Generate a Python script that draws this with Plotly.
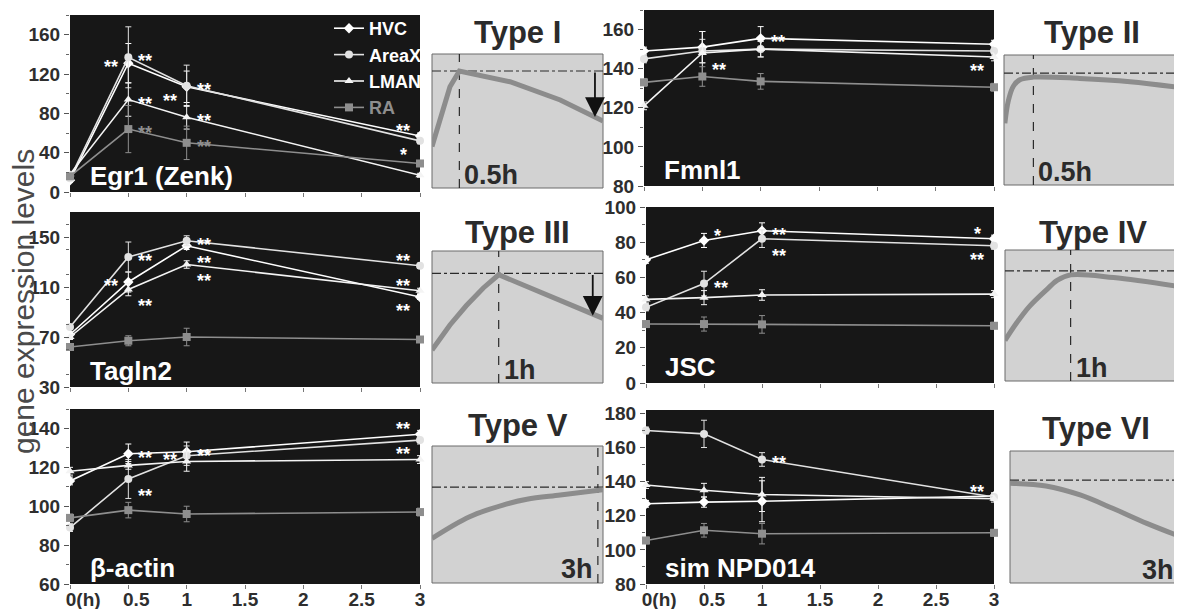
import plotly.graph_objects as go

W, H = 1182, 609
OFF = 8  # page body margin in the browser

# ---------------- data ----------------
times = [0, 0.5, 1, 3]
x_tickvals = [0, 0.5, 1, 1.5, 2, 2.5, 3]
NB = "\u00a0"
x_ticktext = [NB * 5 + "0(h)", NB * 3 + "0.5", "1", "1.5", "2", "2.5", "3"]
series_names = ["HVC", "AreaX", "LMAN", "RA"]

genes = ["Egr1 (Zenk)", "Tagln2", "β-actin", "Fmnl1", "JSC", "sim NPD014"]

egr1_hvc = [12, 131, 107, 57]
egr1_areax = [14, 137, 108, 52]
egr1_lman = [18, 94, 76, 17]
egr1_ra = [16, 64, 50, 29]
egr1_err = [[2, 20, 16, 3], [2, 31, 21, 3], [2, 17, 12, 2], [2, 24, 17, 3]]

tagln2_hvc = [72, 114, 143, 102]
tagln2_areax = [78, 134, 147, 127]
tagln2_lman = [70, 108, 128, 107]
tagln2_ra = [62, 67, 70, 68]
tagln2_err = [[2, 8, 3, 2], [2, 12, 4, 2], [2, 5, 3, 2], [2, 4, 7, 2]]

bactin_hvc = [113, 127, 128, 137]
bactin_areax = [89, 114, 126, 134]
bactin_lman = [118, 121, 123, 124]
bactin_ra = [94, 98, 96, 97]
bactin_err = [[2, 5, 5, 2], [2, 10, 5, 2], [2, 2, 5, 2], [2, 4, 4, 2]]

fmnl1_hvc = [149, 151, 155.5, 152.5]
fmnl1_areax = [145, 149, 150, 149]
fmnl1_lman = [121, 148, 150, 146]
fmnl1_ra = [133, 136, 133.5, 130.5]
fmnl1_err = [[2, 8, 6, 2], [2, 6, 4, 2], [2, 11, 4, 2], [2, 5, 4, 2]]

jsc_hvc = [70, 81, 86.5, 82]
jsc_areax = [43, 56.5, 82, 78]
jsc_lman = [47.5, 48.5, 50, 50.5]
jsc_ra = [33.5, 33.5, 33.3, 32.5]
jsc_err = [[2, 4, 4.5, 2], [2, 7, 5, 2], [2, 4, 3, 2], [2, 4, 5, 2]]

npd014_hvc = [127, 128, 128.5, 131.5]
npd014_areax = [170, 168, 153, 131]
npd014_lman = [138, 135, 132.5, 130]
npd014_ra = [105.5, 111.5, 109.5, 110]
npd014_err = [[2, 3, 12, 2], [2, 8, 4, 2], [2, 4, 10, 2], [2, 4, 6, 2]]

gene_values = [
    [egr1_hvc, egr1_areax, egr1_lman, egr1_ra],
    [tagln2_hvc, tagln2_areax, tagln2_lman, tagln2_ra],
    [bactin_hvc, bactin_areax, bactin_lman, bactin_ra],
    [fmnl1_hvc, fmnl1_areax, fmnl1_lman, fmnl1_ra],
    [jsc_hvc, jsc_areax, jsc_lman, jsc_ra],
    [npd014_hvc, npd014_areax, npd014_lman, npd014_ra],
]
gene_errors = [egr1_err, tagln2_err, bactin_err, fmnl1_err, jsc_err, npd014_err]

y_ranges = [[0, 180], [30, 170], [60, 150], [80, 170], [0, 100], [80, 182]]
y_tick0 = [0, 30, 60, 80, 0, 80]
y_dtick = [40, 40, 20, 20, 20, 20]

# significance marks: (series index, time index, label)
egr1_stars = [(0, 1, "**"), (1, 1, "**"), (2, 1, "**"), (3, 1, "**"),
              (0, 2, "**"), (1, 2, "**"), (2, 2, "**"), (3, 2, "**"),
              (0, 3, "**"), (1, 3, "*")]
tagln2_stars = [(1, 1, "**"), (0, 1, "**"), (2, 1, "**"),
                (1, 2, "**"), (0, 2, "**"), (2, 2, "**"),
                (1, 3, "**"), (2, 3, "**"), (0, 3, "**")]
bactin_stars = [(0, 1, "**"), (1, 1, "**"), (1, 2, "**"), (0, 2, "**"),
                (0, 3, "**"), (1, 3, "**")]
fmnl1_stars = [(2, 1, "**"), (0, 2, "**"), (2, 3, "**")]
jsc_stars = [(0, 1, "*"), (1, 1, "**"), (0, 2, "**"), (1, 2, "**"),
             (0, 3, "*"), (1, 3, "**")]
npd014_stars = [(1, 2, "**"), (1, 3, "**")]
gene_stars = [egr1_stars, tagln2_stars, bactin_stars, fmnl1_stars, jsc_stars, npd014_stars]
# placement of each mark relative to its point
egr1_star_side = ["l", "r", "r", "r", "ld", "r", "r", "r", "lu", "ld"]
tagln2_star_side = ["r", "l", "rd", "r", "rd", "rd", "lu", "lu", "ld"]
bactin_star_side = ["r", "rd", "l", "r", "lu", "ld"]
fmnl1_star_side = ["rd", "r", "ld"]
jsc_star_side = ["ru", "r", "r", "rd", "lu", "ld"]
npd014_star_side = ["r", "lu"]
gene_star_side = [egr1_star_side, tagln2_star_side, bactin_star_side,
                  fmnl1_star_side, jsc_star_side, npd014_star_side]

# schematic response types (normalised time 0..1, normalised level 0..1)
type_names = ["Type I", "Type II", "Type III", "Type IV", "Type V", "Type VI"]
type_peak_labels = ["0.5h", "0.5h", "1h", "1h", "3h", "3h"]
type1_x = [0.0, 0.057, 0.105, 0.16, 0.456, 0.75, 1.0]
type1_y = [0.31, 0.557, 0.755, 0.873, 0.793, 0.657, 0.5]
type2_x = [0.005, 0.025, 0.053, 0.09, 0.167, 0.43, 0.716, 1.0]
type2_y = [0.475, 0.65, 0.76, 0.81, 0.83, 0.82, 0.795, 0.75]
type3_x = [0.0, 0.105, 0.2, 0.3, 0.39, 0.69, 1.0]
type3_y = [0.25, 0.44, 0.585, 0.72, 0.82, 0.66, 0.49]
type4_x = [0.0, 0.07, 0.14, 0.24, 0.3, 0.375, 0.62, 1.0]
type4_y = [0.31, 0.45, 0.57, 0.70, 0.77, 0.81, 0.79, 0.72]
type5_x = [0.0, 0.22, 0.415, 0.555, 0.75, 1.0]
type5_y = [0.326, 0.484, 0.569, 0.611, 0.642, 0.68]
type6_x = [0.0, 0.21, 0.41, 0.6, 0.8, 1.0]
type6_y = [0.755, 0.735, 0.667, 0.566, 0.452, 0.35]
type_curves_x = [type1_x, type2_x, type3_x, type4_x, type5_x, type6_x]
type_curves_y = [type1_y, type2_y, type3_y, type4_y, type5_y, type6_y]
type_peak_x = [0.16, 0.167, 0.39, 0.375, 0.97, 0.99]
type_ref_y = [0.873, 0.86, 0.83, 0.84, 0.70, 0.78]
type_arrow_x = [0.953, None, 0.94, None, None, None]
type_arrow_end = [0.53, None, 0.51, None, None, None]

# ---------------- layout geometry (pixels in the 1182x609 window) ----------------
FW, FH = W - OFF, H - OFF


def px_x(a):
    return (a - OFF) / FW


def px_y(a):
    return 1 - (a - OFF) / FH


def xd(a, b):
    return [px_x(a), px_x(b)]


def yd(top, bottom):
    return [px_y(bottom), px_y(top)]


def ax_names(n):
    if n == 1:
        return "x", "y", "xaxis", "yaxis"
    return f"x{n}", f"y{n}", f"xaxis{n}", f"yaxis{n}"


data_boxes = [(70, 420, 15, 192), (70, 420, 212, 387), (70, 420, 409, 584),
              (644, 994, 10, 186), (646, 994, 207, 383), (646, 994, 410, 584)]
type_boxes = [(432, 603, 54, 188), (1004, 1180, 55, 185), (432, 603, 251, 383),
              (1005, 1180, 250, 381), (432, 603, 446, 583), (1010, 1181, 451, 583)]
type_title_y = [33, 33, 232, 232, 425, 428]

FONT = "Liberation Sans, Arial, sans-serif"
series_style = [
    dict(symbol="diamond", color="#ffffff", size=8),
    dict(symbol="circle", color="#e2e2e2", size=8),
    dict(symbol="triangle-up", color="#f4f4f4", size=8),
    dict(symbol="square", color="#8e8e8e", size=8),
]
legend_names = ["HVC", "AreaX", "LMAN", '<span style="color:#8e8e8e">RA</span>']

fig = go.Figure()
layout = {}
shapes = []
annotations = []

shift = {"r": (17, 0), "l": (-17, 0), "rd": (17, -13), "ld": (-17, -10),
         "lu": (-17, 9), "ru": (13, 8)}

for i in range(6):
    xa, ya, xk, yk = ax_names(i + 1)
    x0, x1, t, b = data_boxes[i]
    bottom_row = i in (2, 5)
    layout[xk] = dict(
        domain=xd(x0, x1), anchor=ya, range=[0, 3], showgrid=False, zeroline=False,
        tickvals=x_tickvals, ticktext=x_ticktext if bottom_row else [""] * 7,
        ticks="outside", ticklen=4, tickcolor="#777", showline=False, automargin=False,
        ticklabelstandoff=-6,
        tickfont=dict(family=FONT, size=19, color="#2e2e2e", weight="bold"),
    )
    layout[yk] = dict(
        domain=yd(t, b), anchor=xa, range=y_ranges[i], showgrid=False, zeroline=False,
        tick0=y_tick0[i], dtick=y_dtick[i], ticks="outside", ticklen=5, tickcolor="#555",
        minor=dict(dtick=y_dtick[i] / 2, ticks="outside", ticklen=3, tickcolor="#666", showgrid=False),
        tickfont=dict(family=FONT, size=19, color="#2e2e2e", weight="bold"),
        showline=False, automargin=False,
    )
    shapes.append(dict(type="rect", xref=f"{xa} domain", yref=f"{ya} domain",
                       x0=0, x1=1, y0=0, y1=1, fillcolor="#171717",
                       line=dict(width=0), layer="below"))
    for s in range(4):
        st = series_style[s]
        fig.add_trace(go.Scatter(
            x=times, y=gene_values[i][s], xaxis=xa, yaxis=ya,
            mode="lines+markers", name=legend_names[s], legendgroup=series_names[s],
            showlegend=(i == 0), cliponaxis=False,
            line=dict(color=st["color"], width=1.6),
            marker=dict(symbol=st["symbol"], color=st["color"], size=st["size"]),
            error_y=dict(type="data", array=gene_errors[i][s], color=st["color"],
                         thickness=1, width=3),
        ))
    annotations.append(dict(text=f"<b>{genes[i]}</b>", xref=f"{xa} domain", yref=f"{ya} domain",
                            x=0.05, y=0.09, xanchor="left", yanchor="middle", showarrow=False,
                            font=dict(family=FONT, size=26, color="#ffffff")))
    for (s, ti, lab), side in zip(gene_stars[i], gene_star_side[i]):
        dx, dy = shift[side]
        col = "#8e8e8e" if s == 3 else "#ffffff"
        annotations.append(dict(text=lab, x=times[ti], y=gene_values[i][s][ti], xref=xa, yref=ya,
                                xshift=dx, yshift=dy - 4, showarrow=False,
                                xanchor="center", yanchor="middle",
                                font=dict(family=FONT, size=18, color=col, weight="bold")))

for k in range(6):
    xa, ya, xk, yk = ax_names(k + 7)
    x0, x1, t, b = type_boxes[k]
    layout[xk] = dict(domain=xd(x0, x1), anchor=ya, range=[0, 1], visible=False, automargin=False)
    layout[yk] = dict(domain=yd(t, b), anchor=xa, range=[0, 1], visible=False, automargin=False)
    shapes.append(dict(type="rect", xref=f"{xa} domain", yref=f"{ya} domain",
                       x0=0, x1=1, y0=0, y1=1, fillcolor="#d2d2d2",
                       line=dict(color="#6a6a6a", width=1), layer="below"))
    shapes.append(dict(type="line", xref=xa, yref=ya, x0=0, x1=1,
                       y0=type_ref_y[k], y1=type_ref_y[k],
                       line=dict(color="#2a2a2a", width=1.2, dash="dashdot"), layer="below"))
    shapes.append(dict(type="line", xref=xa, yref=ya, x0=type_peak_x[k], x1=type_peak_x[k],
                       y0=0, y1=1, line=dict(color="#2a2a2a", width=1.2, dash="dash"), layer="below"))
    fig.add_trace(go.Scatter(
        x=type_curves_x[k], y=type_curves_y[k], xaxis=xa, yaxis=ya, mode="lines",
        showlegend=False, hoverinfo="skip", cliponaxis=False,
        line=dict(color="#8c8c8c", width=5,
                  shape="linear" if k in (0, 2) else "spline"),
    ))
    annotations.append(dict(text=f"<b>{type_names[k]}</b>", xref=f"{xa} domain", yref="paper",
                            x=0.5, y=px_y(type_title_y[k]), xanchor="center", yanchor="middle",
                            showarrow=False, font=dict(family=FONT, size=31, color="#2b2b2b")))
    right = type_peak_x[k] > 0.8
    annotations.append(dict(text=f"<b>{type_peak_labels[k]}</b>", xref=xa, yref=ya,
                            x=type_peak_x[k], y=0.1, xanchor="right" if right else "left",
                            xshift=-3 if right else 3, yanchor="middle", showarrow=False,
                            font=dict(family=FONT, size=27, color="#2b2b2b")))
    if type_arrow_x[k] is not None:
        annotations.append(dict(x=type_arrow_x[k], y=type_arrow_end[k], ax=type_arrow_x[k],
                                ay=type_ref_y[k], xref=xa, yref=ya, axref=xa, ayref=ya,
                                text="", showarrow=True, arrowhead=2, arrowsize=2.2,
                                arrowwidth=1.8, arrowcolor="#111111"))

annotations.append(dict(text="gene expression levels", xref="paper", yref="paper",
                        x=px_x(23), y=px_y(302), textangle=-90, showarrow=False,
                        xanchor="center", yanchor="middle",
                        font=dict(family=FONT, size=30, color="#4a4a4a")))

fig.update_layout(
    width=FW, height=FH, margin=dict(l=0, r=0, t=0, b=0, autoexpand=False),
    paper_bgcolor="#ffffff", plot_bgcolor="rgba(0,0,0,0)",
    shapes=shapes, annotations=annotations,
    legend=dict(x=px_x(329), y=px_y(10), xanchor="left", yanchor="top",
                bgcolor="rgba(0,0,0,0)", itemwidth=30, tracegroupgap=0,
                font=dict(family=FONT, size=18, color="#ffffff", weight="bold")),
    **layout,
)

fig.write_html("out.html")
